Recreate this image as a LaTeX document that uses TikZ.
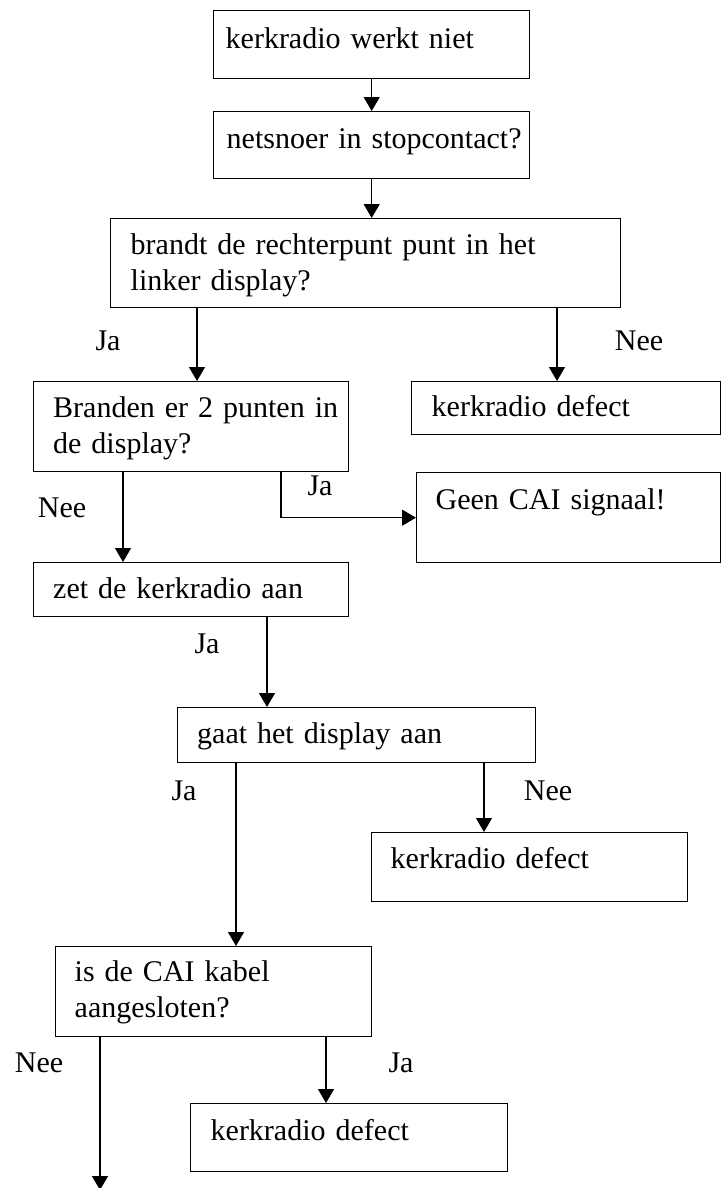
\documentclass[tikz,border=0pt]{standalone}
\usepackage{fontspec}
\setmainfont{Liberation Serif}
\usetikzlibrary{arrows.meta}
\begin{document}
\begin{tikzpicture}[x=0.4pt,y=-0.4pt,
  box/.style={draw, line width=0.55pt, anchor=north west, inner ysep=0pt, align=left,
    font=\fontsize{12pt}{14.4pt}\selectfont},
  arr/.style={line width=0.55pt, -{Triangle[length=5.6pt,width=6.4pt]}},
  lab/.style={anchor=base, inner sep=0pt, font=\fontsize{12pt}{14.4pt}\selectfont}]
\useasboundingbox (0,0) rectangle (722,1188);

% boxes
\node[box, inner xsep=4.8pt, text width=116.8pt, text height=15.2pt, text depth=12pt] (b1) at (213,10) {\mbox{kerkradio werkt niet}};
\node[box, inner xsep=5.2pt, text width=116pt, text height=14.8pt, text depth=12pt] (b2) at (213,111) {\mbox{netsnoer in stopcontact?}};
\node[box, inner xsep=8pt, text width=188pt, text height=14.4pt, text depth=21.2pt] (b3) at (110,218) {\mbox{brandt de rechterpunt punt in het}\\\mbox{linker display?}};
\node[box, inner xsep=7.8pt, text width=110.4pt, text height=14.4pt, text depth=21.6pt] (b4) at (33,381) {\mbox{Branden er 2 punten in}\\\mbox{de display?}};
\node[box, inner xsep=8pt, text width=107.6pt, text height=14pt, text depth=7.2pt] (b5) at (411,381) {\mbox{kerkradio defect}};
\node[box, inner xsep=7.6pt, text width=106.4pt, text height=14.8pt, text depth=21.2pt] (b6) at (416,472) {\mbox{Geen CAI signaal!}};
\node[box, inner xsep=7.8pt, text width=110.4pt, text height=14.4pt, text depth=7.2pt] (b7) at (33,562) {\mbox{zet de kerkradio aan}};
\node[box, inner xsep=8pt, text width=127.4pt, text height=14.4pt, text depth=7.6pt] (b8) at (176.5,707) {\mbox{gaat het display aan}};
\node[box, inner xsep=7.6pt, text width=111.2pt, text height=14.4pt, text depth=13.2pt] (b9) at (371,832) {\mbox{kerkradio defect}};
\node[box, inner xsep=7.6pt, text width=111.2pt, text height=14pt, text depth=22pt] (b10) at (55,946) {\mbox{is de CAI kabel}\\\mbox{aangesloten?}};
\node[box, inner xsep=8pt, text width=110.8pt, text height=14.8pt, text depth=12.4pt] (b11) at (190,1103) {\mbox{kerkradio defect}};

% helper coordinates for connector x positions
\coordinate (c197) at (197,0);
\coordinate (c557) at (557,0);
\coordinate (c123) at (123,0);
\coordinate (c281) at (281,0);
\coordinate (c267) at (267,0);
\coordinate (c236) at (236,0);
\coordinate (c484) at (484,0);
\coordinate (c100) at (100,0);
\coordinate (c326) at (326,0);
\coordinate (endpt) at (100,1190);

% connectors
\draw[arr] (b1.south) -- (b2.north);
\draw[arr] (b2.south) -- (b2.south |- b3.north);
\draw[arr] (b3.south -| c197) -- (b4.north -| c197);
\draw[arr] (b3.south -| c557) -- (b5.north -| c557);
\draw[arr] (b4.south -| c123) -- (b7.north -| c123);
\draw[arr] (b4.south -| c281) |- (b6.west);
\draw[arr] (b7.south -| c267) -- (b8.north -| c267);
\draw[arr] (b8.south -| c236) -- (b10.north -| c236);
\draw[arr] (b8.south -| c484) -- (b9.north -| c484);
\draw[arr] (b10.south -| c100) -- (endpt);
\draw[arr] (b10.south -| c326) -- (b11.north -| c326);

% labels
\node[lab] (l1) at (108,350) {Ja};
\node[lab] (l2) at (639,350) {Nee};
\node[lab] (l3) at (62,517) {Nee};
\node[lab] (l4) at (320,495) {Ja};
\node[lab] (l5) at (207,653) {Ja};
\node[lab] (l6) at (184,800) {Ja};
\node[lab] (l7) at (548,800) {Nee};
\node[lab] (l8) at (39,1072) {Nee};
\node[lab] (l9) at (401,1072) {Ja};
\end{tikzpicture}
\end{document}
